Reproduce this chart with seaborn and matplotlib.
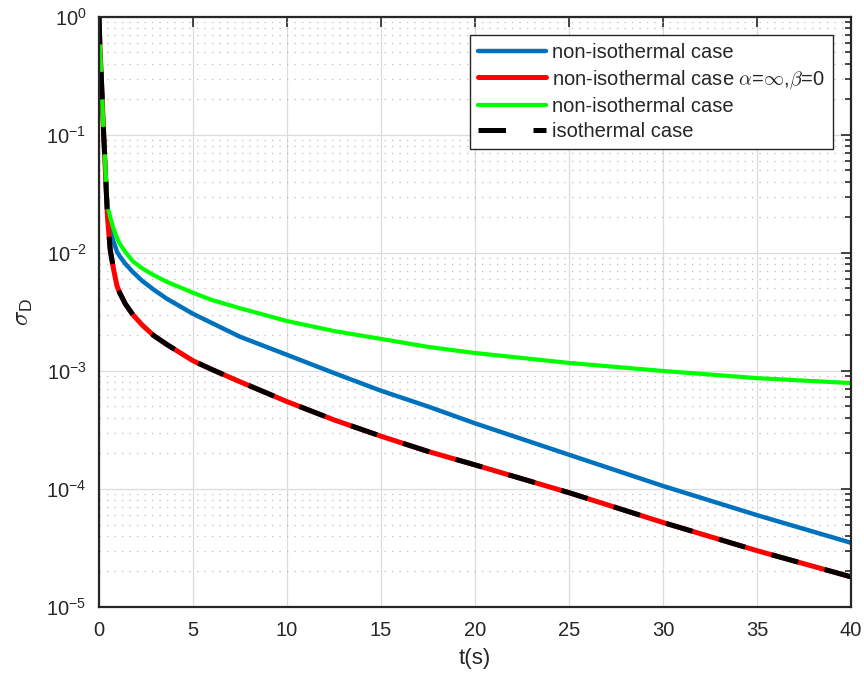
import numpy as np
import pandas as pd
import matplotlib
matplotlib.use("Agg")
import matplotlib.pyplot as plt
import seaborn as sns
from matplotlib.ticker import LogLocator, NullFormatter

# ---- data ----
t = [0, 0.05, 0.1, 0.17, 0.25, 0.35, 0.45, 0.6, 0.75, 0.95, 1.1, 1.4, 1.8,
     2.3, 2.9, 3.6, 5, 6, 7.5, 10, 12.5, 15, 17.5, 20, 25, 30, 35, 40]
blue = [1.0, 0.55, 0.38, 0.2, 0.1, 0.048, 0.024, 0.0157, 0.0128, 0.0103,
        0.0094, 0.0081, 0.0069, 0.0058, 0.0049, 0.0041, 0.00305, 0.00255,
        0.00195, 0.00137, 0.00096, 0.00068, 0.00050, 0.00036, 0.000195,
        0.000106, 0.000060, 0.000035]
red = [1.0, 0.55, 0.38, 0.2, 0.1, 0.045, 0.020, 0.0105, 0.0076, 0.0053,
       0.0046, 0.0037, 0.0030, 0.00245, 0.0020, 0.00168, 0.00122, 0.00103,
       0.00081, 0.00055, 0.000385, 0.00028, 0.000208, 0.00016, 0.000093,
       0.000052, 0.000030, 0.000018]
green = [1.0, 0.55, 0.38, 0.2, 0.1, 0.049, 0.025, 0.020, 0.0165, 0.0135,
         0.0120, 0.0102, 0.0085, 0.0074, 0.0065, 0.0057, 0.0046, 0.0040,
         0.0034, 0.00265, 0.00218, 0.00187, 0.00160, 0.00142, 0.00117,
         0.00100, 0.00087, 0.00079]
black = red

labels = ["non-isothermal case",
          r"non-isothermal case $\alpha$=$\infty$,$\beta$=0",
          "non-isothermal case",
          "isothermal case"]
xticks = [0, 5, 10, 15, 20, 25, 30, 35, 40]

# ---- style ----
sns.set_style("white")
plt.rcParams["font.family"] = ["Liberation Sans", "DejaVu Sans"]
plt.rcParams["mathtext.fontset"] = "cm"
plt.rcParams["axes.unicode_minus"] = False
plt.rcParams["xtick.direction"] = "in"
plt.rcParams["ytick.direction"] = "in"

fig = plt.figure(figsize=(8.64, 6.84), dpi=100)
ax = fig.add_axes([0.1146, 0.1126, 0.8704, 0.8626])

sns.lineplot(x=t, y=blue, ax=ax, color="#0072BD", lw=3.2, label=labels[0])
sns.lineplot(x=t, y=red, ax=ax, color="#FF0000", lw=3.6, label=labels[1])
sns.lineplot(x=t, y=green, ax=ax, color="#00FF00", lw=3.0, label=labels[2])
sns.lineplot(x=t, y=black, ax=ax, color="black", lw=3.6, label=labels[3],
             linestyle=(0, (5.5, 5.5)), dash_capstyle="butt")

ax.set_yscale("log")
ax.set_xlim(0, 40)
ax.set_ylim(1e-5, 1)
ax.set_xticks(xticks)
ax.set_xticklabels([str(v) for v in xticks])
ax.yaxis.set_major_locator(LogLocator(base=10, numticks=10))
ax.yaxis.set_minor_locator(LogLocator(base=10, subs=np.arange(2, 10), numticks=100))
ax.yaxis.set_minor_formatter(NullFormatter())

ax.grid(True, which="major", color="#dcdcdc", lw=0.9, ls="-")
ax.grid(True, which="minor", axis="y", color="#bdbdbd", lw=0.9, ls=(0, (1, 5)))
ax.set_axisbelow(True)

for s in ax.spines.values():
    s.set_visible(True)
    s.set_color("#262626")
    s.set_linewidth(1.6)
ax.tick_params(which="both", top=True, right=True, labelsize=14.5,
               colors="#262626", width=1.2)
ax.tick_params(which="major", length=7)
ax.tick_params(which="minor", length=4)
ax.tick_params(axis="x", which="major", pad=10)
ax.tick_params(axis="y", which="major", pad=9)

ax.set_xlabel("t(s)", fontsize=16, color="#262626", labelpad=6)
ax.set_ylabel(r"$\sigma_{\mathregular{D}}$", fontsize=18, color="#262626",
              labelpad=8)

leg = ax.legend(loc="upper right", fontsize=14.5, frameon=True, fancybox=False,
                edgecolor="#262626", framealpha=1, handlelength=3.4,
                borderaxespad=0.9, labelspacing=0.3, handletextpad=0.3,
                borderpad=0.4)
leg.get_frame().set_linewidth(1.0)

fig.savefig("out.png", dpi=100)
